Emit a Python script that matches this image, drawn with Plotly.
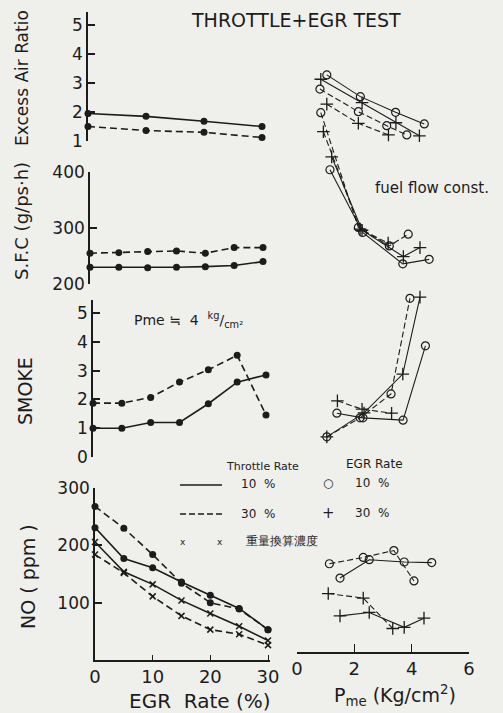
import plotly.graph_objects as go

W, H = 503, 713
INK = "#1c1c1c"
BG = "#efefec"
FONT = "DejaVu Sans"

# ---------------- EGR sweeps at Pme ~ 4 kg/cm2 (left column) ----------------
egr_air = [0, 10, 20, 30]
air_thr10 = [1.95, 1.85, 1.68, 1.50]
air_thr30 = [1.50, 1.36, 1.30, 1.12]

egr = [0, 5, 10, 15, 20, 25, 30]
sfc_thr10 = [230, 230, 229, 230, 231, 233, 240]
sfc_thr30 = [255, 256, 258, 259, 255, 265, 265]
smoke_thr10 = [1.0, 1.0, 1.2, 1.2, 1.85, 2.6, 2.85]
smoke_thr30 = [1.87, 1.87, 2.07, 2.6, 3.03, 3.53, 1.46]
no_thr10 = [231, 177, 161, 136, 113, 90, 53]
no_thr30 = [268, 230, 184, 134, 100, 89, 53]
no_mass_thr10 = [206, 154, 132, 104, 81, 59, 34]
no_mass_thr30 = [184, 152, 111, 77, 53, 45, 26]

# ---------------- load sweeps, fuel flow constant (right column) ----------------
# key: (throttle rate, EGR rate)
air_pme = {
    (10, 10): [1.04, 2.21, 3.44, 4.44],
    (10, 30): [0.83, 2.27, 3.45, 4.27],
    (30, 10): [0.80, 2.14, 3.13, 3.83],
    (30, 30): [1.04, 2.14, 3.19],
}
air_val = {
    (10, 10): [3.28, 2.53, 1.99, 1.59],
    (10, 30): [3.13, 2.32, 1.63, 1.18],
    (30, 10): [2.79, 2.01, 1.53, 1.21],
    (30, 30): [2.27, 1.61, 1.21],
}
sfc_pme = {
    (10, 10): [1.15, 2.29, 3.69, 4.61],
    (10, 30): [1.21, 2.27, 3.71, 4.29],
    (30, 10): [0.83, 2.14, 3.22, 3.88],
    (30, 30): [0.92, 2.20, 3.18],
}
sfc_val = {
    (10, 10): [404, 292, 236, 244],
    (10, 30): [427, 296, 249, 265],
    (30, 10): [506, 301, 268, 289],
    (30, 30): [472, 298, 273],
}
smoke_pme = {
    (10, 10): [1.39, 2.30, 3.70, 4.48],
    (10, 30): [1.04, 2.34, 3.69, 4.29],
    (30, 10): [1.04, 2.20, 3.28, 3.94],
    (30, 30): [1.41, 2.27, 3.30],
}
smoke_val = {
    (10, 10): [1.52, 1.36, 1.28, 3.86],
    (10, 30): [0.70, 1.53, 2.88, 5.55],
    (30, 10): [0.70, 1.36, 2.19, 5.51],
    (30, 30): [1.95, 1.66, 1.52],
}
no_pme = {
    (10, 10): [1.50, 2.52, 3.74, 4.70],
    (10, 30): [1.50, 2.52, 3.74, 4.43],
    (30, 10): [1.13, 2.31, 3.38, 4.08],
    (30, 30): [1.09, 2.31, 3.34],
}
no_val = {
    (10, 10): [143, 175, 171, 170],
    (10, 30): [77, 83, 57, 73],
    (30, 10): [168, 179, 191, 138],
    (30, 30): [116, 108, 55],
}

egr_ticks = [0, 10, 20, 30]
pme_ticks = [0, 2, 4, 6]


# ---------------- axis helpers (pixel layout -> domain/range) ----------------
def y_px(p_bot, p_top, p_ref, v_ref, k):
    return dict(domain=[1 - p_bot / H, 1 - p_top / H],
                range=[v_ref + (p_ref - p_bot) / k, v_ref + (p_ref - p_top) / k])


def x_px(q_left, q_right, q_ref, v_ref, k):
    return dict(domain=[q_left / W, q_right / W],
                range=[v_ref + (q_left - q_ref) / k, v_ref + (q_right - q_ref) / k])


# value scales of the four rows (pixel of a reference value, px per unit)
AIR = (141, 1, 29.0)
SFC = (284, 200, 0.56)
SMK = (457, 0, 28.8)
NOX = (660, 0, 0.573)

fig = go.Figure()

solid = dict(color=INK, width=1.6)
dashed = dict(color=INK, width=1.6, dash="7px,4px")
thin_solid = dict(color=INK, width=1.1)
thin_dashed = dict(color=INK, width=1.1, dash="6px,3px")
dot = dict(symbol="circle", size=7, color=INK)
cross_small = dict(symbol="x-thin", size=6, line=dict(color=INK, width=1.5))
ring = dict(symbol="circle-open", size=8, color=INK, line=dict(width=1.2))
plus = dict(symbol="cross-thin", size=9, color=INK, line=dict(color=INK, width=1.3))


def add(x, y, xa, ya, line, marker):
    fig.add_trace(go.Scatter(x=x, y=y, xaxis=xa, yaxis=ya, mode="lines+markers",
                             line=line, marker=marker, cliponaxis=False,
                             showlegend=False, hoverinfo="skip"))


# left column
add(egr_air, air_thr10, "x", "y", solid, dot)
add(egr_air, air_thr30, "x", "y", dashed, dot)
add(egr, sfc_thr10, "x2", "y2", solid, dot)
add(egr, sfc_thr30, "x2", "y2", dashed, dot)
add(egr, smoke_thr10, "x3", "y3", solid, dot)
add(egr, smoke_thr30, "x3", "y3", dashed, dot)
add(egr, no_thr10, "x4", "y4", solid, dot)
add(egr, no_thr30, "x4", "y4", dashed, dot)
add(egr, no_mass_thr10, "x4", "y4", solid, cross_small)
add(egr, no_mass_thr30, "x4", "y4", dashed, cross_small)

# right column
for pme, val, ya in [(air_pme, air_val, "y5"), (sfc_pme, sfc_val, "y6"),
                     (smoke_pme, smoke_val, "y7"), (no_pme, no_val, "y8")]:
    for key in [(10, 10), (10, 30), (30, 10), (30, 30)]:
        thr, rate = key
        add(pme[key], val[key], "x5", ya,
            thin_solid if thr == 10 else thin_dashed,
            ring if rate == 10 else plus)

tick_font = dict(family=FONT, size=17, color=INK)
left_y = dict(showline=True, linewidth=1.6, linecolor=INK, ticks="inside",
              ticklen=7, tickwidth=1.5, tickcolor=INK, showgrid=False,
              zeroline=False, tickfont=tick_font)
hidden = dict(visible=False, showgrid=False, zeroline=False)

fig.update_layout(
    width=W, height=H,
    margin=dict(l=0, r=0, t=0, b=0, autoexpand=False),
    paper_bgcolor=BG, plot_bgcolor="rgba(0,0,0,0)",
    font=dict(family=FONT, color=INK),
    showlegend=False,
    # left column x axes (only the bottom one drawn)
    xaxis=dict(**hidden, **x_px(88, 268, 88, 0, 5.8), anchor="y"),
    xaxis2=dict(**hidden, **x_px(90, 270, 90, 0, 5.7667), anchor="y2"),
    xaxis3=dict(**hidden, **x_px(93, 272, 93, 0, 5.7667), anchor="y3"),
    xaxis4=dict(**x_px(95, 270, 95, 0, 5.7667), anchor="y4", showline=True,
                linewidth=1.6, linecolor=INK, ticks="inside", ticklen=5,
                tickwidth=1.3, tickcolor=INK, tickvals=egr_ticks,
                showgrid=False, zeroline=False,
                tickfont=dict(family=FONT, size=18, color=INK)),
    xaxis5=dict(**x_px(297, 469, 297, 0, 28.667), anchor="free",
                position=1 - 653 / H, showline=True, linewidth=1.6,
                linecolor=INK, ticks="inside", ticklen=8, tickwidth=1.4,
                tickcolor=INK, tickvals=pme_ticks, showgrid=False,
                zeroline=False,
                tickfont=dict(family=FONT, size=18, color=INK)),
    # left column y axes
    yaxis=dict(**left_y, **y_px(141, 12, *AIR), anchor="x",
               tickvals=[1, 2, 3, 4, 5]),
    yaxis2=dict(**left_y, **y_px(284, 172, *SFC), anchor="x2",
                tickvals=[200, 300, 400]),
    yaxis3=dict(**left_y, **y_px(457, 300, *SMK), anchor="x3",
                tickvals=[0, 1, 2, 3, 4, 5]),
    yaxis4=dict(**left_y, **y_px(660, 488, *NOX), anchor="x4",
                tickvals=[100, 200, 300]),
    # right column y axes share each row's scale
    yaxis5=dict(**hidden, **y_px(150, 50, *AIR), anchor="x5"),
    yaxis6=dict(**hidden, **y_px(285, 95, *SFC), anchor="x5"),
    yaxis7=dict(**hidden, **y_px(450, 285, *SMK), anchor="x5"),
    yaxis8=dict(**hidden, **y_px(645, 530, *NOX), anchor="x5"),
)


def note(text, x, y, size, angle=0, xanchor="center"):
    fig.add_annotation(text=text, x=x / W, y=1 - y / H, xref="paper",
                       yref="paper", showarrow=False, textangle=angle,
                       xanchor=xanchor, yanchor="middle",
                       font=dict(family=FONT, size=size, color=INK))


note("THROTTLE+EGR TEST", 296, 20, 19)
note("Excess Air Ratio", 22, 78, 17, -90)
note("S.F.C (g/ps·h)", 21, 221, 18, -90)
note("SMOKE", 25, 391, 19, -90)
note("NO ( ppm )", 28, 577, 19, -90)
note("fuel flow const.", 432, 188, 15)
note("Pme ≒  4  <sup>kg</sup>/<sub>cm²</sub>", 132, 320, 14, xanchor="left")
note("EGR  Rate (%)", 200, 701, 20)
note("P<sub>me</sub> (Kg/cm<sup>2</sup>)", 395, 695, 19)

# key
note("Throttle Rate", 262, 466, 11)
note("EGR Rate", 374, 464, 12)
note("10  %", 258, 484, 12)
note("30  %", 258, 514, 12)
note("10  %", 372, 483, 12)
note("30  %", 372, 513, 12)
note("○", 328, 483, 12)
note("+", 328, 513, 15)
note("x", 183, 542, 9)
note("x", 220, 542, 9)
note("重量換算濃度", 244, 541, 12, xanchor="left")
fig.add_shape(type="line", xref="paper", yref="paper", x0=180 / W, x1=222 / W,
              y0=1 - 485 / H, y1=1 - 485 / H, line=dict(color=INK, width=1.4))
fig.add_shape(type="line", xref="paper", yref="paper", x0=180 / W, x1=222 / W,
              y0=1 - 514 / H, y1=1 - 514 / H,
              line=dict(color=INK, width=1.4, dash="6px,3px"))

fig.write_html("out.html")
